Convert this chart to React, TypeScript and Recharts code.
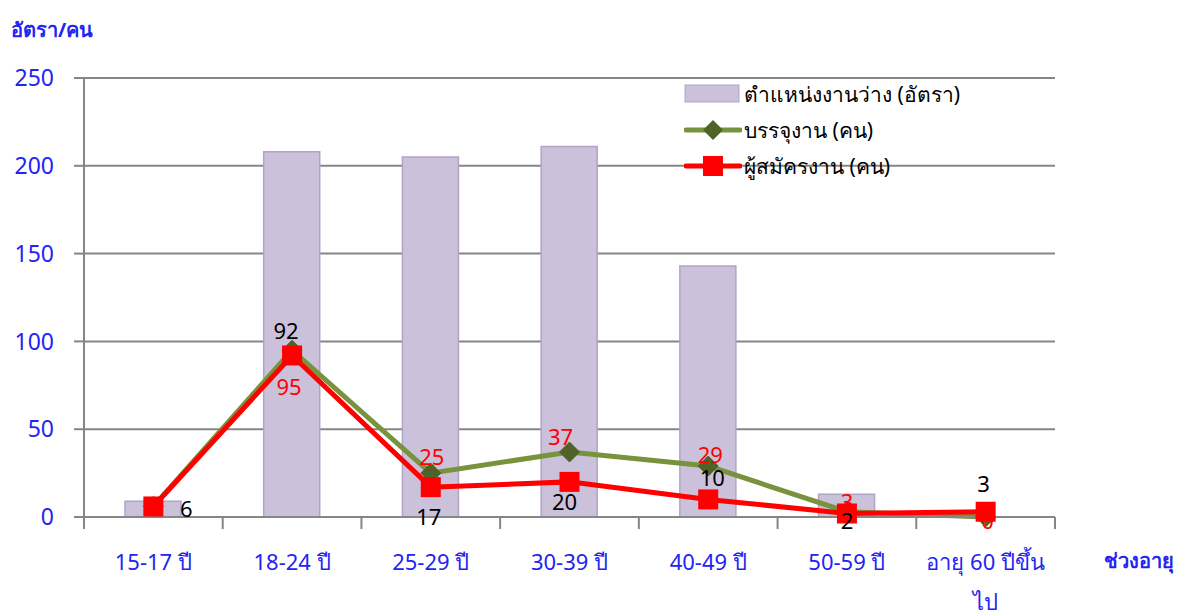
import { ComposedChart, Bar, Line, XAxis, YAxis, CartesianGrid, Legend, LabelList } from 'recharts'

const ageGroups = ['15-17 ปี', '18-24 ปี', '25-29 ปี', '30-39 ปี', '40-49 ปี', '50-59 ปี', 'อายุ 60 ปีขึ้นไป']
const vacancies = [9, 208, 205, 211, 143, 13, 0]
const placed = [6, 95, 25, 37, 29, 3, 0]
const applicants = [6, 92, 17, 20, 10, 2, 3]
const yTicks = [0, 50, 100, 150, 200, 250]

// label nudges (px) for each point, null = no label
const placedLabelDy = [null, 45, -8, -7, -3, -2, 12]
const applicantLabelDy = [11, -16, 38, 28, -13, 16, -20]
const applicantLabelDx = [33, -6, -2, -5, 4, 0, -2]
const placedLabelDx = [0, -3, 1, -9, 2, 0, 2]

const FONT = '"Noto Sans", Tahoma, sans-serif'
const BLUE = '#2323f5'
const GRID = '#868686'
const BAR_FILL = '#ccc1da'
const BAR_STROKE = '#b3a2c7'
const GREEN = '#77933c'
const GREEN_DARK = '#4f6228'
const RED = '#ff0000'

const data = ageGroups.map((g, i) => ({
  group: g,
  vacancies: vacancies[i],
  placed: placed[i],
  applicants: applicants[i],
}))

const SERIES = [
  { key: 'vacancies', label: 'ตำแหน่งงานว่าง (อัตรา)', kind: 'bar' },
  { key: 'placed', label: 'บรรจุงาน (คน)', kind: 'diamond' },
  { key: 'applicants', label: 'ผู้สมัครงาน (คน)', kind: 'square' },
]

function makeLabel(dxs: number[], dys: (number | null)[], color: string) {
  return (props: any) => {
    const { x, y, value, index } = props
    const dy = dys[index]
    if (dy == null) return null
    return (
      <text x={x + dxs[index]} y={y + dy} textAnchor="middle" fontSize={22} fill={color} fontFamily={FONT}>
        {value}
      </text>
    )
  }
}

function Diamond(props: any) {
  const { cx, cy } = props
  if (cx == null || cy == null) return null
  const r = 10
  return <path d={`M${cx},${cy - r}L${cx + r},${cy}L${cx},${cy + r}L${cx - r},${cy}Z`} fill={GREEN_DARK} stroke={GREEN_DARK} />
}

function Square(props: any) {
  const { cx, cy } = props
  if (cx == null || cy == null) return null
  return <rect x={cx - 10} y={cy - 10} width={20} height={20} fill={RED} />
}

function AgeTick(props: any) {
  const { x, y, payload, index, visibleTicksCount } = props
  const half = payload.offset ?? 0
  const words = String(payload.value)
  const lines = words === 'อายุ 60 ปีขึ้นไป' ? ['อายุ 60 ปีขึ้น', 'ไป'] : [words]
  return (
    <g>
      <line x1={x - half} y1={y - 8} x2={x - half} y2={y + 4} stroke={GRID} strokeWidth={2} />
      {index === visibleTicksCount - 1 && (
        <line x1={x + half} y1={y - 8} x2={x + half} y2={y + 4} stroke={GRID} strokeWidth={2} />
      )}
      {lines.map((l, i) => (
        <text key={i} x={x} y={y + 45 + i * 40} textAnchor="middle" fontSize={22} fill={BLUE} fontFamily={FONT}>
          {l}
        </text>
      ))}
    </g>
  )
}

function LegendBox() {
  return (
    <div style={{ fontFamily: FONT, fontSize: 21, color: '#000', lineHeight: '36px' }}>
      {SERIES.map(s => (
        <div key={s.key} style={{ display: 'flex', alignItems: 'center', height: 36 }}>
          <svg width={58} height={24} style={{ marginRight: 2 }}>
            {s.kind === 'bar' && <rect x={1} y={3} width={54} height={17} fill={BAR_FILL} stroke={BAR_STROKE} />}
            {s.kind === 'diamond' && (
              <g>
                <line x1={2} y1={12} x2={56} y2={12} stroke={GREEN} strokeWidth={5} strokeLinecap="round" />
                <path d="M29,2L39,12L29,22L19,12Z" fill={GREEN_DARK} />
              </g>
            )}
            {s.kind === 'square' && (
              <g>
                <line x1={2} y1={12} x2={56} y2={12} stroke={RED} strokeWidth={5} strokeLinecap="round" />
                <rect x={19} y={2} width={20} height={20} fill={RED} />
              </g>
            )}
          </svg>
          <span>{s.label}</span>
        </div>
      ))}
    </div>
  )
}

export default function App() {
  return (
    <div style={{ position: 'absolute', left: 0, top: 0, width: 1179, height: 613, background: '#fff', fontFamily: FONT }}>
      <div style={{ position: 'absolute', left: 11, top: 14, color: BLUE, fontWeight: 700, fontSize: 20 }}>อัตรา/คน</div>
      <div style={{ position: 'absolute', left: 1104, top: 545, color: BLUE, fontWeight: 700, fontSize: 20 }}>ช่วงอายุ</div>
      <ComposedChart
        width={1179}
        height={613}
        data={data}
        margin={{ top: 78, right: 124, left: 24, bottom: 36 }}
        barCategoryGap={0}
      >
        <CartesianGrid vertical={false} stroke={GRID} strokeWidth={2} />
        <XAxis
          dataKey="group"
          axisLine={{ stroke: GRID, strokeWidth: 2 }}
          tickLine={false}
          tick={<AgeTick />}
          interval={0}
          height={60}
        />
        <YAxis
          domain={[0, 250]}
          ticks={yTicks}
          width={60}
          axisLine={{ stroke: GRID, strokeWidth: 2 }}
          tickLine={{ stroke: GRID, strokeWidth: 2 }}
          tickSize={10}
          tick={{ fill: BLUE, fontSize: 23, fontFamily: FONT }}
          tickMargin={20}
        />
        <Legend
          layout="horizontal"
          verticalAlign="middle"
          wrapperStyle={{ position: 'absolute', left: 684, top: 76, width: 320 }}
          content={() => <LegendBox />}
        />
        <Bar dataKey="vacancies" name={SERIES[0].label} fill={BAR_FILL} stroke={BAR_STROKE} strokeWidth={1.5} barSize={56} isAnimationActive={false} />
        <Line
          dataKey="placed"
          name={SERIES[1].label}
          stroke={GREEN}
          strokeWidth={5}
          dot={<Diamond />}
          activeDot={false}
          isAnimationActive={false}
        >
          <LabelList dataKey="placed" content={makeLabel(placedLabelDx, placedLabelDy, RED)} />
        </Line>
        <Line
          dataKey="applicants"
          name={SERIES[2].label}
          stroke={RED}
          strokeWidth={5}
          dot={<Square />}
          activeDot={false}
          isAnimationActive={false}
        >
          <LabelList dataKey="applicants" content={makeLabel(applicantLabelDx, applicantLabelDy, '#000')} />
        </Line>
      </ComposedChart>
    </div>
  )
}
